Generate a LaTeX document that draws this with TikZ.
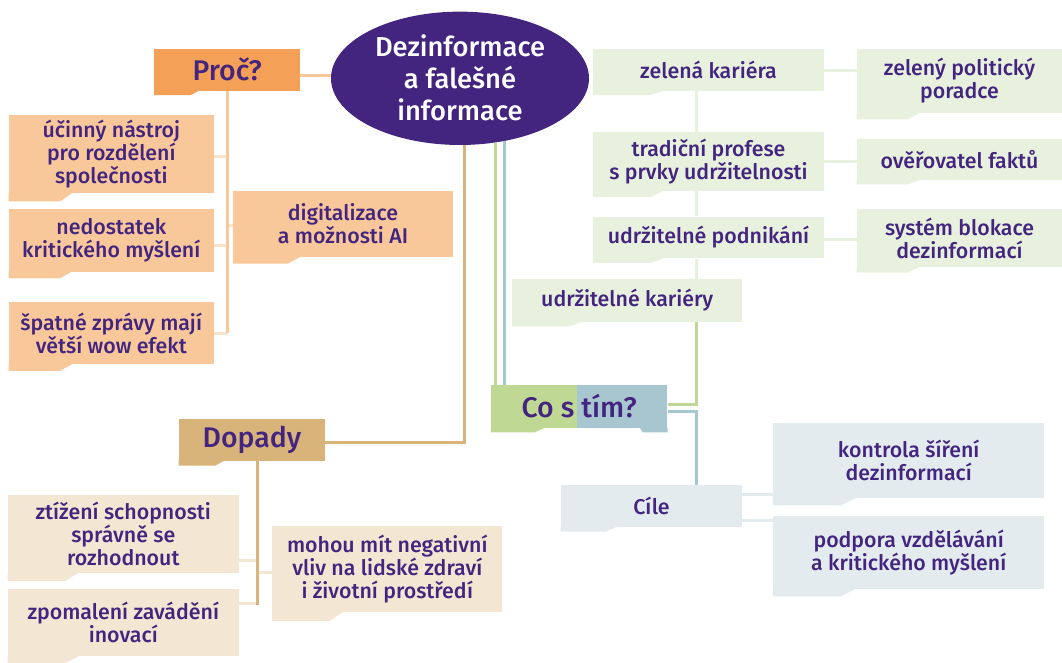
\documentclass[tikz,border=0pt]{standalone}
\usepackage{fontspec}
\setmainfont{Fira Sans}[UprightFont=* Medium, BoldFont=* SemiBold]
\usetikzlibrary{calc,shapes.geometric}

\definecolor{purp}{HTML}{43257F}
\definecolor{orange}{HTML}{F4A056}
\definecolor{peach}{HTML}{F9C89A}
\definecolor{peachstub}{HTML}{FCE2C6}
\definecolor{tan}{HTML}{D8B47A}
\definecolor{tanlight}{HTML}{F3E6D2}
\definecolor{green}{HTML}{BFD894}
\definecolor{greenlight}{HTML}{E8F1DE}
\definecolor{blue}{HTML}{A8C6D0}
\definecolor{bluelight}{HTML}{E3EBEE}

% tab under the left part of a box
\def\boxtab(#1)[#2]{\fill[#2] let \p1=(#1.south west), \p2=(#1.north east) in
  (\x1,{\y1+0.5pt}) -- (\x1,{\y1-0.1*(\y2-\y1)}) -- ({\x1+0.25*(\x2-\x1)},{\y1-0.1*(\y2-\y1)}) -- ({\x1+0.31*(\x2-\x1)},{\y1+0.5pt}) -- cycle;}

\tikzset{
  box/.style={rectangle, inner sep=2pt, align=center, text=purp, font=\fontsize{16}{17.3}\selectfont},
  headbox/.style={box, font=\fontsize{21.3}{24}\selectfont},
  peachbox/.style={box, fill=peach},
  tanbox/.style={box, fill=tanlight},
  greenbox/.style={box, fill=greenlight},
  bluebox/.style={box, fill=bluelight},
  conn/.style={line width=2.25pt},
  peachline/.style={conn, draw=peach},
  peachthin/.style={conn, draw=peachstub},
  tanline/.style={conn, draw=tan},
  tanthin/.style={conn, draw=tanlight},
  greenline/.style={conn, draw=green},
  greenthin/.style={conn, draw=greenlight},
  blueline/.style={conn, draw=blue},
  bluethin/.style={conn, draw=bluelight},
}

\begin{document}
\begin{tikzpicture}[x=0.75pt,y=-0.75pt]
			\useasboundingbox (0,0) rectangle (1062,662);
			
			%%%%% middle %%%%%
			\node[ellipse, fill=purp, minimum width=193.5pt, minimum height=100pt, inner sep=0pt, text=white, align=center, font=\fontsize{20.5}{24}\selectfont] (el) at (460,78.3) {Dezinformace\\a falešné\\informace};
			
			%%%%% Proč? %%%%%
			\node[headbox, fill=orange, minimum width=109.3pt, minimum height=31.5pt] (proc) at (227.2,69.7) {Proč?};
			\node[peachbox, minimum width=153.5pt, minimum height=58.7pt] (ucinny) at (111.3,154.2) {účinný nástroj\\pro rozdělení\\společnosti};
			\node[peachbox, minimum width=153.5pt, minimum height=46.8pt] (nedostatek) at (111.3,240.5) {nedostatek\\kritického myšlení};
			\node[peachbox, minimum width=153.5pt, minimum height=46.7pt] (spatne) at (111.3,333.2) {špatné zprávy mají\\větší wow efekt};
			\node[peachbox, minimum width=164.5pt, minimum height=49.3pt] (digital) at (343,223.8) {digitalizace\\a možnosti AI};
			\boxtab(proc)[orange]
			\foreach \b in {ucinny,nedostatek,spatne,digital} {\boxtab(\b)[peach]}
			
			\draw[peachline] ([yshift=-4pt]proc.east) -- ([yshift=-4pt]proc.east -| el.west);
			\draw[peachthin] ([yshift=-2pt]ucinny.east) -- ([yshift=-2pt]ucinny.east -| proc.south);
			\draw[peachthin] ([yshift=-4pt]nedostatek.east) -- ([yshift=-4pt]nedostatek.east -| proc.south);
			\draw[peachthin] (spatne.east) -- (spatne.east -| proc.south);
			\draw[peachthin] ([yshift=-1.5pt]digital.west) -- ([yshift=-1.5pt]digital.west -| proc.south);
			\draw[peachline] (proc.south) -- (proc.south |- spatne.east);
			
			%%%%% Dopady %%%%%
			\node[headbox, fill=tan, minimum width=109.5pt, minimum height=31.3pt] (dopady) at (252,440.2) {Dopady};
			\node[tanbox, minimum width=173pt, minimum height=58.3pt] (ztizeni) at (123.3,533.8) {ztížení schopnosti\\správně se\\rozhodnout};
			\node[tanbox, minimum width=173pt, minimum height=50pt] (zpomaleni) at (123.3,622.7) {zpomalení zavádění\\inovací};
			\node[tanbox, minimum width=172.5pt, minimum height=64.5pt] (mohou) at (387.3,569) {mohou mít negativní\\vliv na lidské zdraví\\i životní prostředí};
			\boxtab(dopady)[tan]
			\foreach \b in {ztizeni,zpomaleni,mohou} {\boxtab(\b)[tanlight]}
			
			\coordinate (dt) at ([xshift=4.3pt]dopady.south);
			\draw[tanline] (el.-86) |- ([yshift=-2pt]dopady.east);
			\draw[tanthin] ([yshift=-20.3pt]ztizeni.east) -- ([yshift=-20.3pt]ztizeni.east -| dt);
			\draw[tanthin] ([yshift=14.5pt]zpomaleni.east) -- ([yshift=14.5pt]zpomaleni.east -| dt);
			\draw[tanthin] ([yshift=-2.7pt]mohou.west) -- ([yshift=-2.7pt]mohou.west -| dt);
			\draw[tanline] (dt) -- ([yshift=13.5pt]dt |- zpomaleni.east);
			
			%%%%% Co s tím? %%%%%
			\node[headbox, minimum width=132.2pt, minimum height=31.8pt,
				path picture={
					\fill[green] (path picture bounding box.south west) rectangle ($(path picture bounding box.north west)!0.49!(path picture bounding box.north east)$);
					\fill[blue] ($(path picture bounding box.south west)!0.49!(path picture bounding box.south east)$) rectangle (path picture bounding box.north east);
				}] (cosim) at (579.2,406.5) {Co s tím?};
			\boxtab(cosim)[green]
			\fill[blue] let \p1=(cosim.south east), \p2=(cosim.north west) in
				(\x1,{\y1+0.5pt}) -- (\x1,{\y1-0.1*(\y2-\y1)}) -- ({\x1-0.14*(\x1-\x2)},{\y1-0.1*(\y2-\y1)}) -- ({\x1-0.16*(\x1-\x2)},{\y1+0.5pt}) -- cycle;
			
			\draw[greenline] (el.-61) -- (el.-61 |- cosim.north);
			\draw[blueline] (el.-55) -- (el.-55 |- cosim.north);
			
			%%%%% kariéry %%%%%
			\node[greenbox, minimum width=172.8pt, minimum height=31pt] (zelena) at (708.5,70) {zelená kariéra};
			\node[greenbox, minimum width=172.8pt, minimum height=43.8pt] (tradicni) at (708.5,161.5) {tradiční profese\\s prvky udržitelnosti};
			\node[greenbox, minimum width=172.8pt, minimum height=31.2pt] (podnikani) at (708.5,237.5) {udržitelné podnikání};
			\node[greenbox, minimum width=172.3pt, minimum height=31.8pt] (kariery) at (627.2,300.5) {udržitelné kariéry};
			\node[greenbox, minimum width=153.8pt, minimum height=47.6pt] (politicky) at (959.5,81) {zelený politický\\poradce};
			\node[greenbox, minimum width=153.8pt, minimum height=30.5pt] (overovatel) at (959.5,159.7) {ověřovatel faktů};
			\node[greenbox, minimum width=153.8pt, minimum height=43pt] (blokace) at (959.5,238) {systém blokace\\dezinformací};
			\foreach \b in {zelena,tradicni,podnikani,kariery,politicky,overovatel,blokace} {\boxtab(\b)[greenlight]}
			
			\coordinate (kx) at ([xshift=-8.9pt]zelena.south);
			\draw[greenthin] (kx) -- (kx |- tradicni.north);
			\draw[greenthin] (kx |- tradicni.south) -- (kx |- podnikani.north);
			\draw[greenthin] (kx |- podnikani.south) -- (kx |- kariery.north);
			\draw[greenthin] (zelena.east) -- (zelena.east -| politicky.west);
			\draw[greenthin] (tradicni.east) -- (tradicni.east -| overovatel.west);
			\draw[greenthin] ([yshift=-1.3pt]podnikani.east) -- ([yshift=-1.3pt]podnikani.east -| blokace.west);
			\draw[greenline] (kx |- kariery.south) |- ([yshift=1.6pt]cosim.east);
			
			%%%%% Cíle %%%%%
			\node[bluebox, minimum width=135.8pt, minimum height=31.3pt] (cile) at (651.5,506.2) {Cíle};
			\node[bluebox, minimum width=203.5pt, minimum height=56pt] (kontrola) at (908.7,460.3) {kontrola šíření\\dezinformací};
			\node[bluebox, minimum width=203.5pt, minimum height=54.8pt] (podpora) at (908.7,552.2) {podpora vzdělávání\\a kritického myšlení};
			\foreach \b in {cile,kontrola,podpora} {\boxtab(\b)[bluelight]}
			
			\draw[blueline] ([yshift=-3.4pt]cosim.east) -| (kx |- cile.north);
			\draw[bluethin] ([yshift=8.9pt]cile.east) -- ([yshift=8.9pt]cile.east -| kontrola.west);
			\draw[bluethin] ([yshift=-10.4pt]cile.east) -- ([yshift=-10.4pt]cile.east -| podpora.west);
			
\end{tikzpicture}
\end{document}
